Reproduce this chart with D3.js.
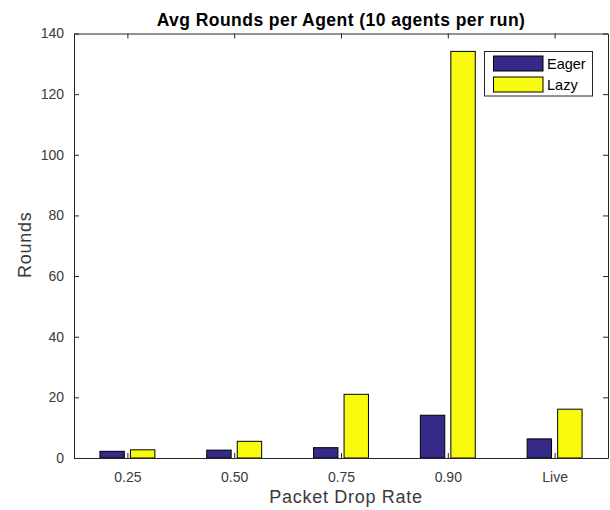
<!DOCTYPE html>
<html>
<head>
<meta charset="utf-8">
<script src="https://cdn.jsdelivr.net/npm/d3@7"></script>
<style>
  html, body { margin: 0; padding: 0; background: #fff; }
  svg text { font-family: "Liberation Sans", Arial, Helvetica, sans-serif; }
</style>
</head>
<body>
<svg id="chart" width="610" height="510"></svg>
<script>
// Packet drop rates (categories) and average rounds per agent for each strategy
const categories = ["0.25", "0.50", "0.75", "0.90", "Live"];
const eager = [2.2, 2.6, 3.4, 14.1, 6.3];
const lazy = [2.7, 5.5, 21.0, 134.1, 16.1];
const seriesNames = ["Eager", "Lazy"];
const seriesColors = ["#352A87", "#F9FB0E"];
const yTicks = [0, 20, 40, 60, 80, 100, 120, 140];

const svg = d3.select("#chart");
const margin = { left: 74, right: 2, top: 33.5, bottom: 52 };
const W = 610, H = 510;
const x0 = margin.left, x1 = W - margin.right;
const y0 = H - margin.bottom, y1 = margin.top;

// numeric x scale, one unit per category, limits [0.5, 5.5]
const x = d3.scaleLinear().domain([0.5, categories.length + 0.5]).range([x0, x1]);
const y = d3.scaleLinear().domain([0, 140]).range([y0, y1]);

const axisColor = "#262626";
const labelColor = "#3a3a3a";
const tickLen = 5;

// grouped bar geometry: two bars per category
const nSeries = 2;
const groupWidth = Math.min(0.8, nSeries / (nSeries + 1.5));
const slot = groupWidth / nSeries;
const barW = slot * 0.8;
const offsets = d3.range(nSeries).map(i => -groupWidth / 2 + slot * (i + 0.5));

const data = [eager, lazy];
data.forEach((vals, si) => {
  svg.append("g").selectAll("rect")
    .data(vals)
    .join("rect")
    .attr("x", (d, i) => x(i + 1 + offsets[si] - barW / 2))
    .attr("width", (d, i) => x(i + 1 + barW / 2) - x(i + 1 - barW / 2))
    .attr("y", d => y(d))
    .attr("height", d => y(0) - y(d))
    .attr("fill", seriesColors[si])
    .attr("stroke", "#000")
    .attr("stroke-width", 1);
});

// axes: bottom/left with labels, top/right mirrors, ticks pointing inward
const xTickVals = d3.range(1, categories.length + 1);
const gx = svg.append("g").attr("transform", `translate(0,${y0})`)
  .call(d3.axisBottom(x).tickValues(xTickVals).tickFormat(d => categories[d - 1])
    .tickSizeInner(-tickLen).tickSizeOuter(0).tickPadding(14));
const gxt = svg.append("g").attr("transform", `translate(0,${y1})`)
  .call(d3.axisTop(x).tickValues(xTickVals).tickFormat("")
    .tickSizeInner(-tickLen).tickSizeOuter(0));
const gy = svg.append("g").attr("transform", `translate(${x0},0)`)
  .call(d3.axisLeft(y).tickValues(yTicks).tickFormat(d3.format("d"))
    .tickSizeInner(-tickLen).tickSizeOuter(0).tickPadding(10));
const gyr = svg.append("g").attr("transform", `translate(${x1},0)`)
  .call(d3.axisRight(y).tickValues(yTicks).tickFormat("")
    .tickSizeInner(-tickLen).tickSizeOuter(0));

[gx, gxt, gy, gyr].forEach(g => {
  g.select(".domain").attr("stroke", axisColor).attr("stroke-width", 1);
  g.selectAll(".tick line").attr("stroke", axisColor);
  g.selectAll(".tick text").attr("fill", labelColor).style("font-size", "14px");
});
gx.selectAll(".tick text").attr("dy", "0.71em");

// title
svg.append("text")
  .attr("x", (x0 + x1) / 2)
  .attr("y", 26)
  .attr("text-anchor", "middle")
  .style("font-size", "17.5px")
  .style("font-weight", "bold")
  .style("letter-spacing", "0.45px")
  .attr("fill", "#000")
  .text("Avg Rounds per Agent (10 agents per run)");

// axis labels
svg.append("text")
  .attr("x", (x0 + x1) / 2 + 5)
  .attr("y", 503)
  .attr("text-anchor", "middle")
  .style("font-size", "18px")
  .style("letter-spacing", "0.7px")
  .attr("fill", labelColor)
  .text("Packet Drop Rate");

svg.append("text")
  .attr("transform", `translate(31,${(y0 + y1) / 2 - 1}) rotate(-90)`)
  .attr("text-anchor", "middle")
  .style("font-size", "18px")
  .style("letter-spacing", "0.7px")
  .attr("fill", labelColor)
  .text("Rounds");

// legend
const lg = svg.append("g");
lg.append("rect")
  .attr("x", 484.5).attr("y", 51.5).attr("width", 108).attr("height", 44.5)
  .attr("fill", "#fff").attr("stroke", axisColor).attr("stroke-width", 1);
seriesNames.forEach((name, i) => {
  const ty = 56 + i * 21;
  lg.append("rect")
    .attr("x", 493.5).attr("y", ty).attr("width", 49.5).attr("height", 15)
    .attr("fill", seriesColors[i]).attr("stroke", "#000").attr("stroke-width", 1);
  lg.append("text")
    .attr("x", 547).attr("y", ty + 7.5).attr("dy", "0.35em")
    .style("font-size", "14.5px").attr("fill", "#000")
    .text(name);
});
</script>
</body>
</html>
